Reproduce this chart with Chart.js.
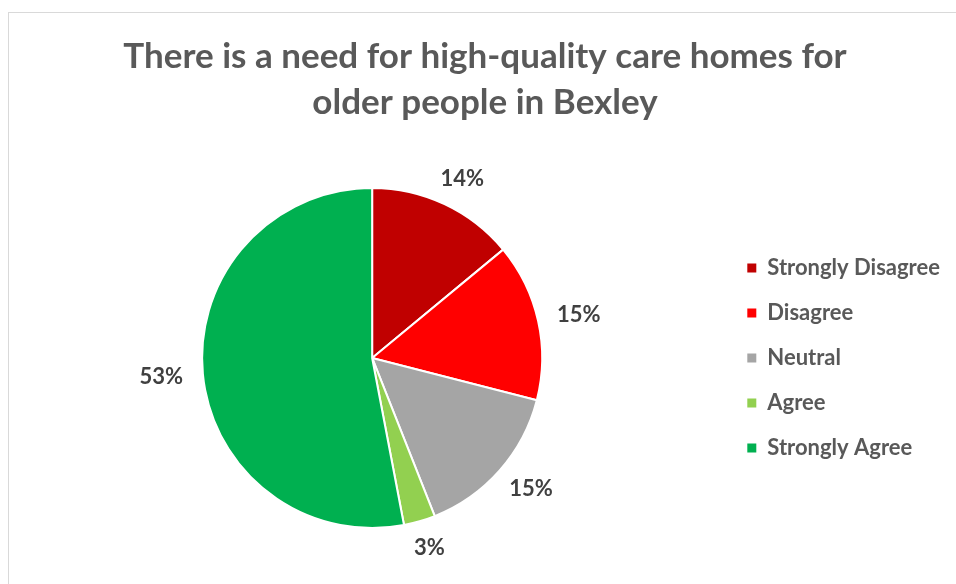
<!DOCTYPE html>
<html>
<head>
<meta charset="utf-8">
<title>Care homes survey</title>
<script src="https://cdn.jsdelivr.net/npm/chart.js@4.4.1/dist/chart.umd.min.js"></script>
<style>
  html, body { margin: 0; padding: 0; background: #fff; overflow: hidden; }
  #frame { position: absolute; left: 8px; top: 12px; width: 1000px; height: 1000px; border: 1px solid #d9d9d9; }
  #wrap { position: absolute; left: 0; top: 0; width: 956px; height: 584px; }
</style>
</head>
<body>
<div id="frame"></div>
<div id="wrap"><canvas id="care-chart"></canvas></div>
<script>
var labels = ["Strongly Disagree", "Disagree", "Neutral", "Agree", "Strongly Agree"];
var values = [14, 15, 15, 3, 53];
var colors = ["#C00000", "#FF0000", "#A5A5A5", "#92D050", "#00B050"];
var titleLines = ["There is a need for high-quality care homes for", "older people in Bexley"];

// percentage labels just outside each slice
var outsideLabels = {
  id: "outsideLabels",
  afterDatasetsDraw: function (chart) {
    var ctx = chart.ctx;
    var meta = chart.getDatasetMeta(0);
    var total = values.reduce(function (a, b) { return a + b; }, 0);
    ctx.save();
    ctx.font = "bold 22px Lato";
    ctx.fillStyle = "#404040";
    ctx.textAlign = "center";
    ctx.textBaseline = "middle";
    meta.data.forEach(function (arc, i) {
      var p = arc.getProps(["x", "y", "startAngle", "endAngle", "outerRadius"], true);
      var mid = (p.startAngle + p.endAngle) / 2;
      var text = Math.round(values[i] * 100 / total) + "%";
      var w = ctx.measureText(text).width + 4;
      var h = 19;
      var r = p.outerRadius + 18;
      ctx.fillText(text, p.x + Math.cos(mid) * (r + w / 2), p.y + Math.sin(mid) * (r + h / 2));
    });
    ctx.restore();
  }
};

var ctx = document.getElementById("care-chart").getContext("2d");
var careChart = new Chart(ctx, {
  type: "pie",
  data: {
    labels: labels,
    datasets: [
      {
        data: values,
        backgroundColor: colors,
        borderColor: "#ffffff",
        borderWidth: 2,
      },
    ],
  },
  options: {
    responsive: true,
    maintainAspectRatio: false,
    animation: false,
    layout: {
      autoPadding: false,
      padding: { left: 20, right: 6, top: 0, bottom: 55 },
    },
    plugins: {
      title: {
        display: true,
        text: titleLines,
        color: "#595959",
        font: { family: "Lato", size: 35, weight: "bold", lineHeight: 1.314 },
        padding: { top: 34, bottom: 61 },
      },
      legend: {
        position: "right",
        fullSize: false,
        labels: {
          boxWidth: 9,
          boxHeight: 9,
          padding: 23,
          color: "#595959",
          font: { family: "Lato", size: 22, weight: "bold" },
          generateLabels: function (chart) {
            return Chart.overrides.pie.plugins.legend.labels.generateLabels(chart).map(function (item) {
              item.lineWidth = 0;
              item.strokeStyle = item.fillStyle;
              return item;
            });
          },
        },
      },
      tooltip: { enabled: false },
    },
  },
  plugins: [outsideLabels],
});
</script>
</body>
</html>
